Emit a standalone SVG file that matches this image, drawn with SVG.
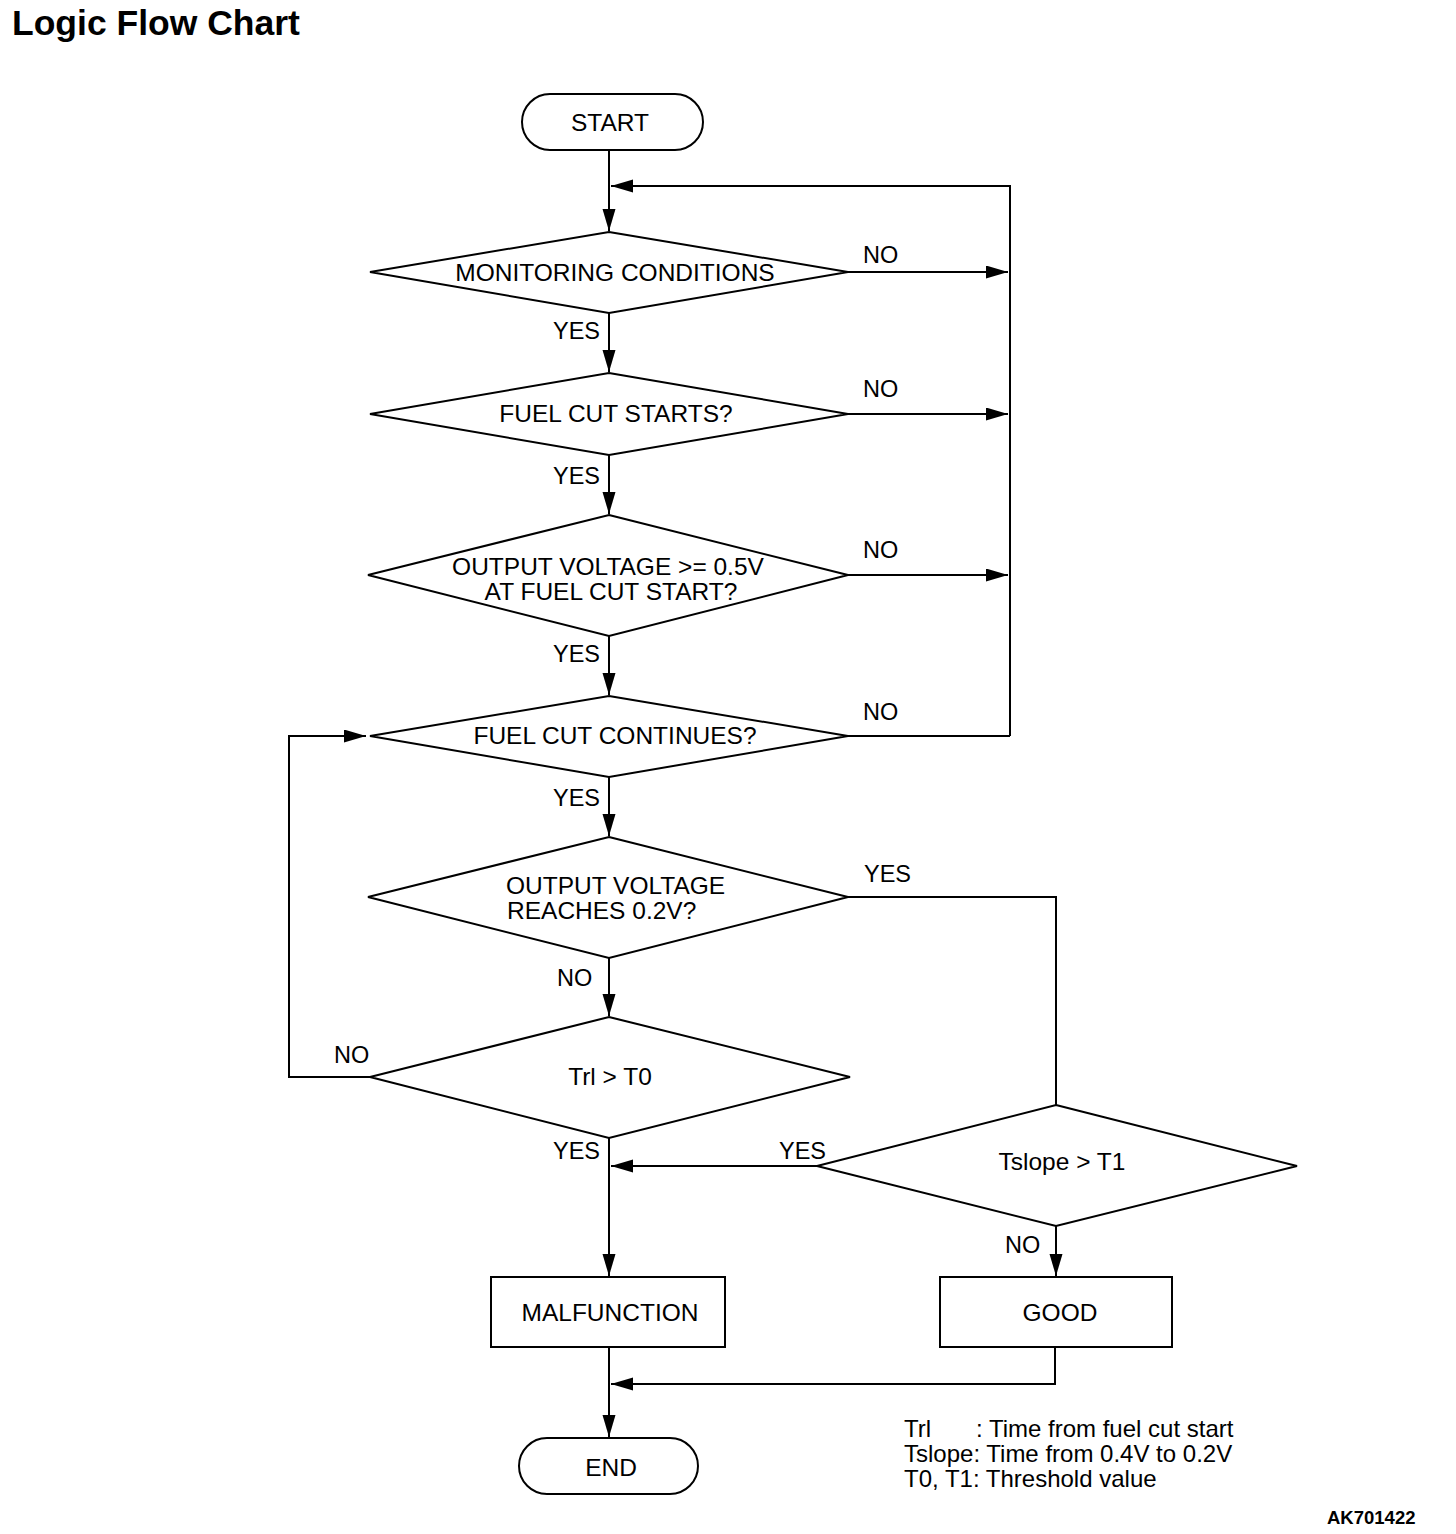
<svg xmlns="http://www.w3.org/2000/svg" width="1456" height="1534" viewBox="0 0 1456 1534">
<style>
.s{fill:#fff;stroke:#000;stroke-width:2}
.c{fill:none;stroke:#000;stroke-width:2}
.t{font-family:"Liberation Sans",Arial,sans-serif;font-size:23.5px;fill:#000}
.n{font-size:24.5px}
.m{text-anchor:middle}
</style>
<defs>
<marker id="ah" markerUnits="userSpaceOnUse" markerWidth="24" markerHeight="16" refX="22" refY="6.5" orient="auto">
<path d="M0,0 L22,6.5 L0,13 z" fill="#000"/>
</marker>
</defs>
<rect width="1456" height="1534" fill="#fff"/>
<text x="12" y="35" font-family="Liberation Sans,Arial,sans-serif" font-size="35.5" font-weight="bold">Logic Flow Chart</text>

<g id="connectors">
<path class="c" d="M609,150 V231" marker-end="url(#ah)"/>
<path class="c" d="M1010,736 V186 H611" marker-end="url(#ah)"/>
<path class="c" d="M848,272 H1008" marker-end="url(#ah)"/>
<path class="c" d="M848,414 H1008" marker-end="url(#ah)"/>
<path class="c" d="M848,575 H1008" marker-end="url(#ah)"/>
<path class="c" d="M848,736 H1010"/>
<path class="c" d="M609,313 V372" marker-end="url(#ah)"/>
<path class="c" d="M609,455 V514" marker-end="url(#ah)"/>
<path class="c" d="M609,636 V695" marker-end="url(#ah)"/>
<path class="c" d="M609,777 V836" marker-end="url(#ah)"/>
<path class="c" d="M609,958 V1016" marker-end="url(#ah)"/>
<path class="c" d="M370,1077 H289 V736 H366" marker-end="url(#ah)"/>
<path class="c" d="M848,897 H1056 V1105"/>
<path class="c" d="M609,1138 V1276" marker-end="url(#ah)"/>
<path class="c" d="M817,1166 H611" marker-end="url(#ah)"/>
<path class="c" d="M1056,1226 V1276" marker-end="url(#ah)"/>
<path class="c" d="M1055,1347 V1384 H611" marker-end="url(#ah)"/>
<path class="c" d="M609,1347 V1437" marker-end="url(#ah)"/>
</g>

<g id="labels" class="t">
<text x="863" y="263">NO</text>
<text x="863" y="397">NO</text>
<text x="863" y="558">NO</text>
<text x="863" y="720">NO</text>
<text x="864" y="882">YES</text>
<text x="553" y="339">YES</text>
<text x="553" y="484">YES</text>
<text x="553" y="662">YES</text>
<text x="553" y="806">YES</text>
<text x="557" y="986">NO</text>
<text x="334" y="1063">NO</text>
<text x="553" y="1159">YES</text>
<text x="779" y="1159">YES</text>
<text x="1005" y="1253">NO</text>
</g>

<g id="start">
<rect class="s" x="522" y="94" width="181" height="56" rx="28"/>
<text class="t n m" x="610" y="131">START</text>
</g>
<g id="monitoring">
<polygon class="s" points="609,232 848,272 609,313 370,272"/>
<text class="t n m" x="615" y="281">MONITORING CONDITIONS</text>
</g>
<g id="fuelcutstarts">
<polygon class="s" points="609,373 848,414 609,455 370,414"/>
<text class="t n m" x="616" y="422">FUEL CUT STARTS?</text>
</g>
<g id="outputvoltage05">
<polygon class="s" points="609,515 848,575 609,636 368,575"/>
<text class="t n m" x="608" y="575">OUTPUT VOLTAGE &gt;= 0.5V</text>
<text class="t n m" x="611" y="600">AT FUEL CUT START?</text>
</g>
<g id="fuelcutcontinues">
<polygon class="s" points="609,696 848,736 609,777 370,736"/>
<text class="t n m" x="615" y="744">FUEL CUT CONTINUES?</text>
</g>
<g id="outputvoltage02">
<polygon class="s" points="609,837 848,897 609,958 368,897"/>
<text class="t n" x="506" y="894">OUTPUT VOLTAGE</text>
<text class="t n" x="507" y="919">REACHES 0.2V?</text>
</g>
<g id="trl">
<polygon class="s" points="609,1017 850,1077 609,1138 370,1077"/>
<text class="t n m" x="610" y="1085">Trl &gt; T0</text>
</g>
<g id="tslope">
<polygon class="s" points="1056,1105 1297,1166 1056,1226 817,1166"/>
<text class="t n m" x="1062" y="1170">Tslope &gt; T1</text>
</g>
<g id="malfunction">
<rect class="s" x="491" y="1277" width="234" height="70"/>
<text class="t n m" x="610" y="1321">MALFUNCTION</text>
</g>
<g id="good">
<rect class="s" x="940" y="1277" width="232" height="70"/>
<text class="t n m" x="1060" y="1321">GOOD</text>
</g>
<g id="end">
<rect class="s" x="519" y="1438" width="179" height="56" rx="28"/>
<text class="t n m" x="611" y="1476">END</text>
</g>

<g id="legend" class="t" style="font-size:24px">
<text x="904" y="1437">Trl</text>
<text x="976" y="1437">: Time from fuel cut start</text>
<text x="904" y="1462">Tslope: Time from 0.4V to 0.2V</text>
<text x="904" y="1487">T0, T1: Threshold value</text>
</g>
<text x="1327" y="1524" font-family="Liberation Sans,Arial,sans-serif" font-size="18.5" font-weight="bold">AK701422</text>
</svg>
